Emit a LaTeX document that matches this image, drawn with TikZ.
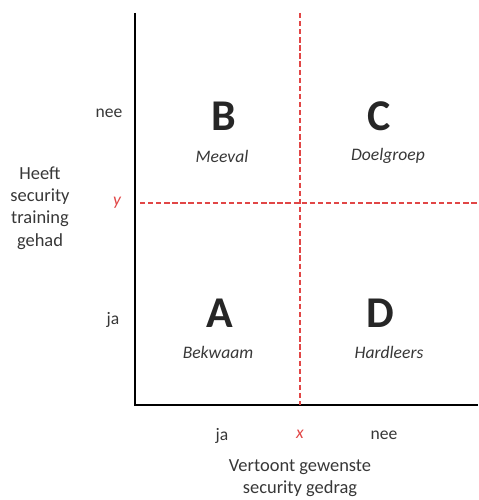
\documentclass[tikz,border=0pt]{standalone}
\usepackage{fontspec}
\setmainfont{Carlito}
\usepackage{xcolor}
\usetikzlibrary{positioning,calc}
\definecolor{splitred}{RGB}{225,70,70}
\definecolor{labelgrey}{RGB}{55,55,55}

\begin{document}
\begin{tikzpicture}[
    x=0.02cm, y=-0.02cm,
    axis/.style={draw=black, line width=1.2pt},
    split/.style={draw=splitred, line width=1.1pt, dash pattern=on 3pt off 1.6pt},
    tick/.style={font=\fontsize{10}{12}\selectfont, text=labelgrey},
    cut/.style={font=\fontsize{10}{12}\selectfont\itshape, text=splitred},
    quad/.style={font=\fontsize{25}{28}\selectfont\bfseries, text=black!85},
    quadname/.style={font=\fontsize{10}{12}\selectfont\itshape, text=labelgrey},
    axlabel/.style={font=\fontsize{10.5}{12.8}\selectfont, text=labelgrey, align=center}
]
\useasboundingbox (0,0) rectangle (479,500);

% --- Axes ---
\coordinate (top)    at (135,13);
\coordinate (origin) at (135,405);
\coordinate (right)  at (478,405);
\draw[axis] (top) -- (origin) -- (right);

% --- Split lines ---
\coordinate (xtop) at (300,13);
\coordinate (xbot) at (300,405);
\coordinate (yleft)  at (140,203);
\coordinate (yright) at (478,203);
\draw[split] (xtop) -- (xbot);
\draw[split] (yleft) -- (yright);

% --- Quadrants ---
\node[quad] (qb) at (224,116) {B};
\node[quad] (qc) at (379,116) {C};
\node[quad] (qa) at (220,313) {A};
\node[quad] (qd) at (380,313) {D};
\node[quadname] (meeval)    at (222,156) {Meeval};
\node[quadname] (doelgroep) at (388,156) {Doelgroep};
\node[quadname] (bekwaam)   at (218,352) {Bekwaam};
\node[quadname] (hardleers) at (389,352) {Hardleers};

% --- Vertical axis labels ---
\node[tick] (ynee) at (109,113) {nee};
\node[tick] (yja)  at (113,320) {ja};
\node[cut]  (ycut) at (117,203) {y};
\node[axlabel] (ylabel) at (40,208) {Heeft\\security\\training\\gehad};

% --- Horizontal axis labels ---
\node[tick] (xja)  at (222,436) {ja};
\node[cut]  (xcut) at (300,434) {x};
\node[tick] (xnee) at (384,435) {nee};
\node[axlabel] (xlabel) at (300,478) {Vertoont gewenste\\security gedrag};
\end{tikzpicture}
\end{document}
